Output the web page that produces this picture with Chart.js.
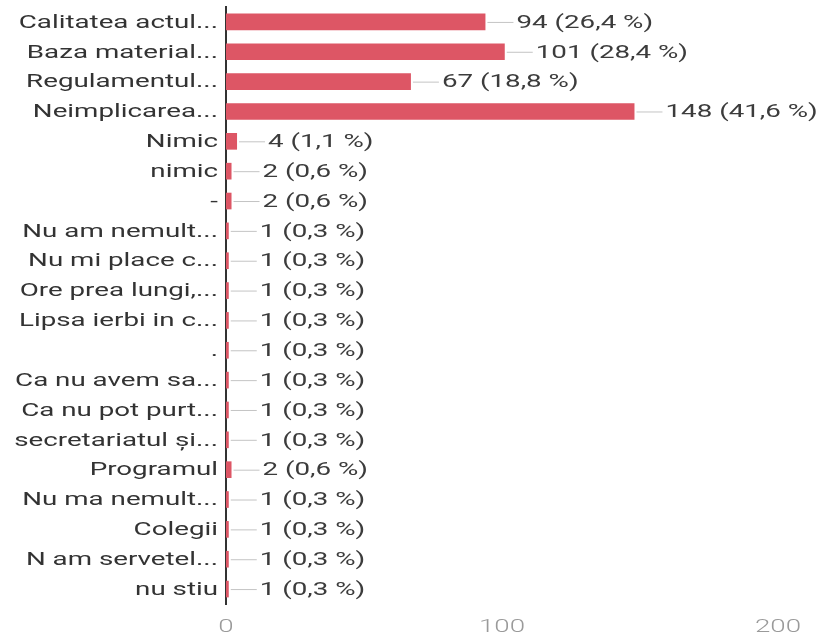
<!DOCTYPE html>
<html lang="ro">
<head>
  <meta charset="UTF-8">
  <title>Nemulțumiri</title>
  <script src="https://cdn.jsdelivr.net/npm/chart.js"></script>
  <style>
    html, body { margin: 0; padding: 0; background: #fff; }
    .grafico-container { width: 822px; height: 636px; }
  </style>
</head>
<body>
  <div class="grafico-container">
    <canvas id="grafic"></canvas>
  </div>

  <script>
    // Date
    const categorii = [
      'Calitatea actul...', 'Baza material...', 'Regulamentul...', 'Neimplicarea...',
      'Nimic', 'nimic', '-', 'Nu am nemult...', 'Nu mi place c...', 'Ore prea lungi,...',
      'Lipsa ierbi in c...', '.', 'Ca nu avem sa...', 'Ca nu pot purt...', 'secretariatul și...',
      'Programul', 'Nu ma nemult...', 'Colegii', 'N am servetel...', 'nu stiu'
    ];
    const valori = [94, 101, 67, 148, 4, 2, 2, 1, 1, 1, 1, 1, 1, 1, 1, 2, 1, 1, 1, 1];
    const procente = ['26,4', '28,4', '18,8', '41,6', '1,1', '0,6', '0,6', '0,3', '0,3', '0,3',
      '0,3', '0,3', '0,3', '0,3', '0,3', '0,6', '0,3', '0,3', '0,3', '0,3'];
    const ticksX = [0, 100, 200];

    // textul din original e latit pe orizontala
    const LATIRE = 1.46;

    function scrieLatit(ctx, text, x, y, align) {
      ctx.save();
      ctx.translate(x, y);
      ctx.scale(LATIRE, 1);
      ctx.textAlign = align;
      ctx.fillText(text, 0, 0);
      ctx.restore();
    }

    // Etichete de categorii, de valori si de axa X
    const etichete = {
      id: 'etichete',
      afterDatasetsDraw(chart) {
        const ctx = chart.ctx;
        const x = chart.scales.x;
        const y = chart.scales.y;
        ctx.save();
        ctx.font = '19px Roboto';
        ctx.textBaseline = 'middle';
        valori.forEach((v, i) => {
          const xEnd = x.getPixelForValue(v);
          const yc = y.getPixelForValue(i);
          // categorie
          ctx.fillStyle = '#333';
          scrieLatit(ctx, categorii[i], x.left - 8, yc + 1, 'right');
          // linie de legatura
          ctx.strokeStyle = '#c4c4c4';
          ctx.lineWidth = 1;
          ctx.beginPath();
          ctx.moveTo(xEnd + 2, yc + 0.5);
          ctx.lineTo(xEnd + 28, yc + 0.5);
          ctx.stroke();
          // valoare
          ctx.fillStyle = '#3c3c3c';
          scrieLatit(ctx, v + ' (' + procente[i] + ' %)', xEnd + 31, yc + 1, 'left');
        });
        ctx.font = '300 19px Roboto';
        ctx.fillStyle = '#9a9a9a';
        ticksX.forEach(t => {
          scrieLatit(ctx, String(t), x.getPixelForValue(t), 627, 'center');
        });
        ctx.restore();
      }
    };

    const ctx = document.getElementById('grafic').getContext('2d');
    new Chart(ctx, {
      type: 'bar',
      data: {
        labels: categorii,
        datasets: [{
          data: valori,
          backgroundColor: 'rgb(221, 86, 101)',
          barPercentage: 0.62,
          categoryPercentage: 0.9
        }]
      },
      options: {
        indexAxis: 'y',
        responsive: true,
        maintainAspectRatio: false,
        animation: false,
        layout: { padding: { top: 7, right: 44, bottom: 0, left: 0 } },
        plugins: { legend: { display: false }, tooltip: { enabled: false } },
        scales: {
          x: {
            min: 0,
            max: 200,
            afterBuildTicks(scale) { scale.ticks = ticksX.map(v => ({ value: v })); },
            afterFit(scale) { scale.height = 32; },
            grid: { display: false, drawTicks: false },
            border: { display: false },
            ticks: { display: false }
          },
          y: {
            afterFit(scale) { scale.width = 226; },
            grid: { display: false, drawTicks: false },
            border: { display: true, color: '#333', width: 2 },
            ticks: { display: false }
          }
        }
      },
      plugins: [etichete]
    });
  </script>
</body>
</html>
